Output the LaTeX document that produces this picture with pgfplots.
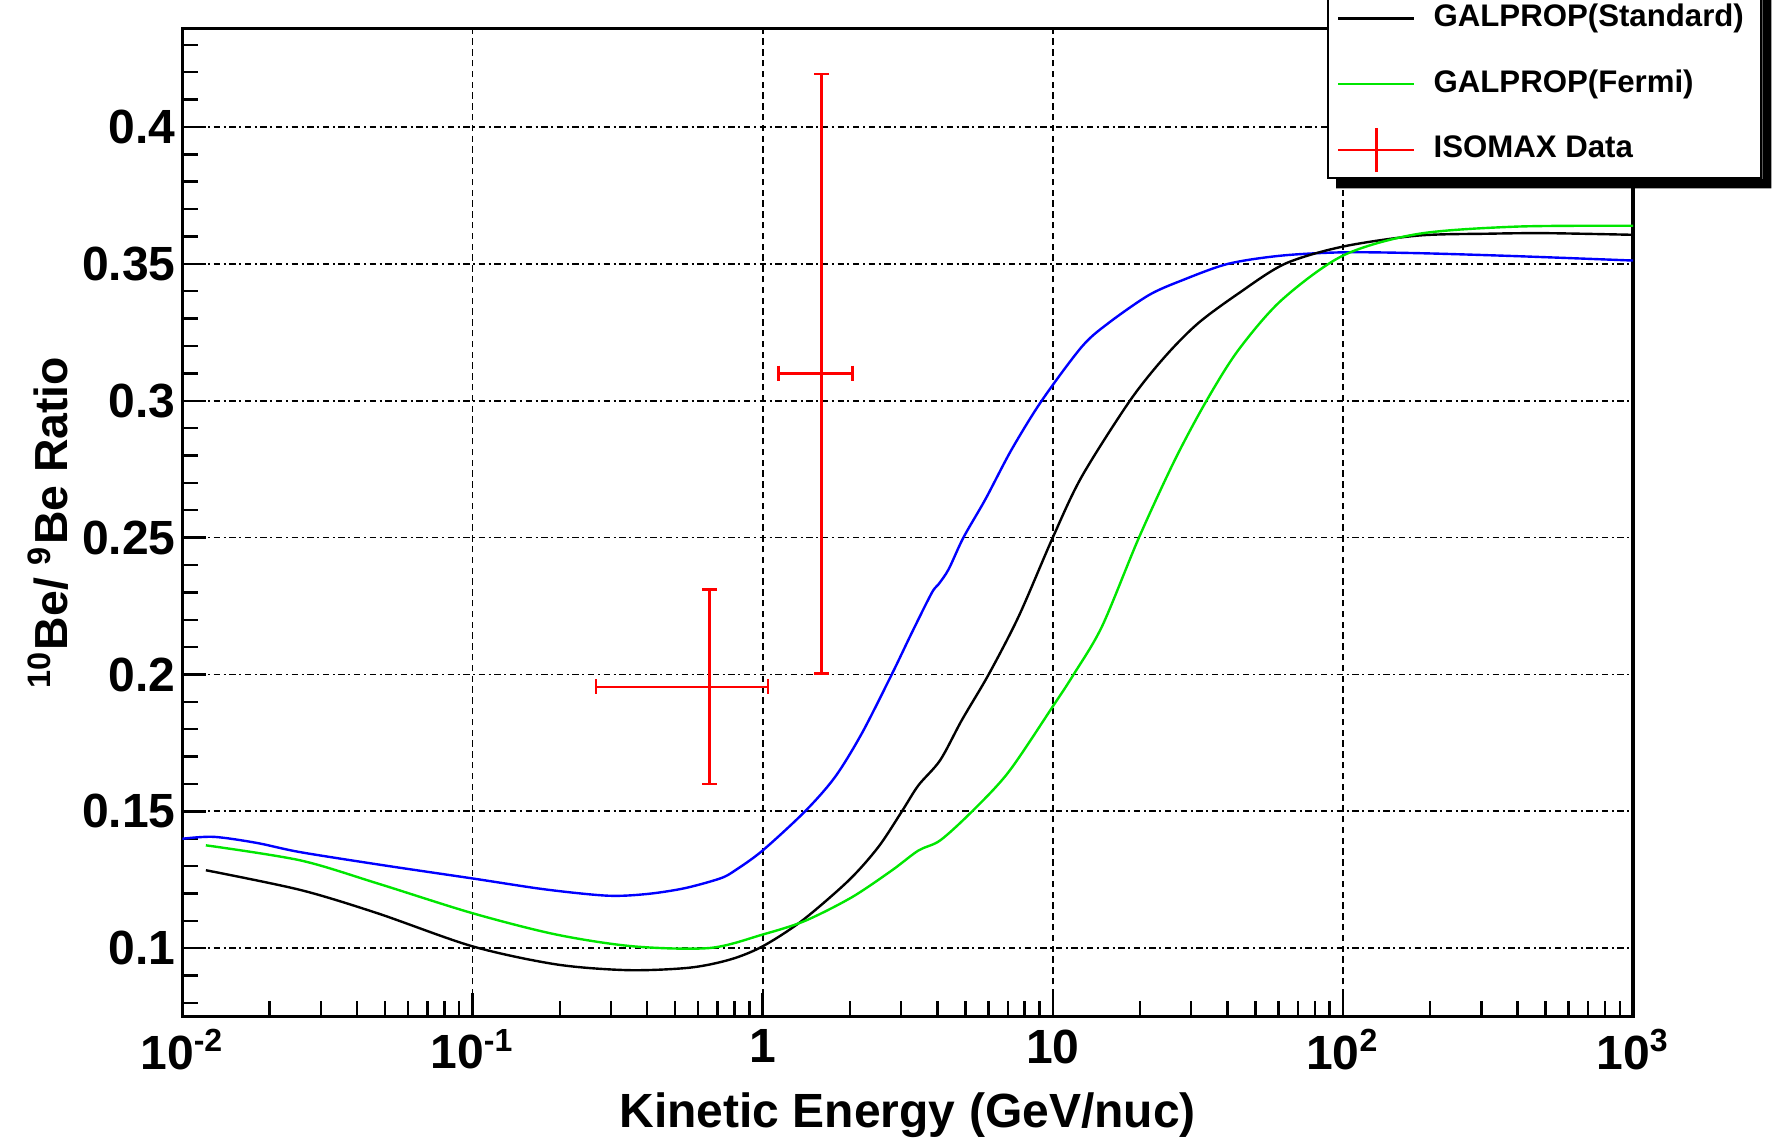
\documentclass[border=0pt]{standalone}
\usepackage{fontspec}
\setmainfont{Liberation Sans}
\usepackage{pgfplots}
\pgfplotsset{compat=1.18}
\definecolor{rootblue}{RGB}{0,0,255}
\definecolor{rootgreen}{RGB}{0,230,0}
\definecolor{rootred}{RGB}{255,0,0}
\begin{document}
\begin{tikzpicture}
\begin{axis}[
  name=ax,
  scale only axis,
  width=362.7pt, height=247.1pt,
  xmode=log,
  xmin=0.01, xmax=1000,
  ymin=0.075, ymax=0.436,
  xtick={0.01,0.1,1,10,100,1000},
  xticklabels={10\textsuperscript{-2},10\textsuperscript{-1},1,10,10\textsuperscript{2},10\textsuperscript{3}},
  minor xtick={0.02,0.03,0.04,0.05,0.06,0.07,0.08,0.09,0.2,0.3,0.4,0.5,0.6,0.7,0.8,0.9,2,3,4,5,6,7,8,9,20,30,40,50,60,70,80,90,200,300,400,500,600,700,800,900},
  ytick={0.1,0.15,0.2,0.25,0.3,0.35,0.4},
  yticklabels={0.1,0.15,0.2,0.25,0.3,0.35,0.4},
  minor ytick={0.08,0.09,0.11,0.12,0.13,0.14,0.16,0.17,0.18,0.19,0.21,0.22,0.23,0.24,0.26,0.27,0.28,0.29,0.31,0.32,0.33,0.34,0.36,0.37,0.38,0.39,0.41,0.42,0.43},
  tick align=inside,
  tick pos=left,
  major tick length=6pt,
  minor tick length=3.8pt,
  tick style={black, line width=0.6pt},
  axis line style={line width=0.9pt},
  grid=major,
  x grid style={black, line width=0.45pt, dash pattern=on 1.6pt off 1.1pt},
  y grid style={black, line width=0.45pt, dash pattern=on 1.6pt off 0.9pt on 0.5pt off 0.9pt},
  ticklabel style={font=\fontsize{12}{14}\selectfont\bfseries},
  yticklabel style={inner xsep=1.5pt},
  xticklabel style={inner ysep=3pt},
  xlabel={Kinetic Energy (GeV/nuc)},
  xlabel style={font=\fontsize{12}{14}\selectfont\bfseries, at={(axis description cs:0.5,0)}, anchor=base, yshift=-27.8pt},
  ylabel={\textsuperscript{10}Be/ \textsuperscript{9}Be Ratio},
  ylabel style={font=\fontsize{11.6}{14}\selectfont\bfseries, at={([xshift=-28.6pt]axis description cs:0,0.5)}, anchor=base, rotate=0},
  legend style={name=leg, at={(axis description cs:1.0891,0.8474)}, anchor=south east, draw=black, line width=0.6pt, fill=white,
    font=\fontsize{7.8}{9}\selectfont\bfseries, inner xsep=2.3pt, inner ysep=1.2pt, row sep=5.2pt},
  legend cell align=left,
  legend image code/.code={\draw[#1, line width=0.6pt] (0pt,0pt) -- (19pt,0pt); \path (21.5pt,0pt);},
]
% blue curve (no visible legend entry)
\addplot[rootblue, line width=0.6pt, smooth, tension=0.5, forget plot] coordinates {
(0.0100,0.1400) (0.01282,0.1407) (0.0180,0.1385) (0.0255,0.1351) (0.0501,0.1302)
(0.1000,0.1255) (0.178,0.1215) (0.292,0.1192) (0.398,0.1198) (0.537,0.1219)
(0.714,0.1255) (0.803,0.1284) (1.000,0.1357) (1.40,0.1500) (1.778,0.1626)
(2.198,0.1785) (2.786,0.2000) (3.266,0.2152) (3.828,0.2298) (4.036,0.2329)
(4.375,0.2384) (4.92,0.2500) (5.86,0.2640) (7.2,0.2820) (9.16,0.3000)
(12.59,0.3197) (15.49,0.3282) (21.38,0.3385) (27.8,0.3439)
(40.2,0.3500) (61.4,0.3530) (100,0.3542) (181,0.3539) (398,0.3528) (1000,0.3512)
};
% GALPROP(Standard)
\addplot[black, line width=0.6pt, smooth, tension=0.5] coordinates {
(0.01205,0.1285) (0.0255,0.1213) (0.047,0.1128) (0.100,0.1007) (0.1945,0.0941)
(0.3436,0.0920) (0.560,0.0929) (0.774,0.0959) (1.000,0.1007) (1.365,0.1100)
(1.977,0.1247) (2.506,0.1370) (3.020,0.1500) (3.443,0.1595) (4.093,0.1687)
(4.864,0.1834) (6.012,0.2000) (7.638,0.2213) (10.0,0.2500) (12.59,0.2723)
(18.45,0.3000) (24.32,0.3160) (31.62,0.3282) (43.55,0.3391) (63.1,0.3500)
(100,0.3563) (181,0.3603) (316,0.3610) (501,0.3612) (1000,0.3606)
};
\addlegendentry{GALPROP(Standard)}
% GALPROP(Fermi)
\addplot[rootgreen, line width=0.6pt, smooth, tension=0.5] coordinates {
(0.01205,0.1376) (0.0255,0.1321) (0.047,0.1237) (0.100,0.1128) (0.1945,0.1050)
(0.358,0.1007) (0.658,0.1001) (1.000,0.1050) (1.40,0.1100) (2.028,0.1186)
(2.786,0.1284) (3.443,0.1357) (4.093,0.1394) (5.272,0.1500) (7.047,0.1644)
(10.0,0.1883) (11.8,0.2000) (14.79,0.2176) (19.82,0.2500) (26.36,0.2784)
(33.88,0.3000) (43.55,0.3184) (61.4,0.3367) (100,0.3530) (181,0.3609)
(398,0.3636) (1000,0.3639)
};
\addlegendentry{GALPROP(Fermi)}
% ISOMAX data: error bars
\addplot[rootred, line width=0.6pt, mark=|, mark size=1.9pt, mark options={solid, line width=0.6pt},
  legend image code/.code={\draw[rootred, line width=0.6pt] (0pt,0pt) -- (19pt,0pt); \draw[rootred, line width=0.6pt] (9.5pt,-5.5pt) -- (9.5pt,5.5pt); \path (21.5pt,0pt);}]
  coordinates {(0.267,0.1955) (1.046,0.1955)};
\addlegendentry{ISOMAX Data}
\addplot[rootred, line width=0.6pt, mark=-, mark size=1.9pt, forget plot] coordinates {(0.655,0.1599) (0.655,0.2310)};
\addplot[rootred, line width=0.6pt, mark=|, mark size=1.9pt, forget plot] coordinates {(1.134,0.3100) (2.040,0.3100)};
\addplot[rootred, line width=0.6pt, mark=-, mark size=1.9pt, forget plot] coordinates {(1.596,0.2004) (1.596,0.4194)};
\end{axis}
\fill[black] ([yshift=-2.3pt]leg.north east) -- ([xshift=2.3pt,yshift=-2.3pt]leg.north east) -- ([xshift=2.3pt,yshift=-2.3pt]leg.south east) -- ([xshift=2.3pt,yshift=-2.3pt]leg.south west) -- ([xshift=2.3pt]leg.south west) -- (leg.south east) -- cycle;
\pgfresetboundingbox
\path[use as bounding box] ([xshift=-45.6pt,yshift=-32.6pt]ax.south west) rectangle ([xshift=36.0pt,yshift=7.1pt]ax.north east);
\end{tikzpicture}
\end{document}
